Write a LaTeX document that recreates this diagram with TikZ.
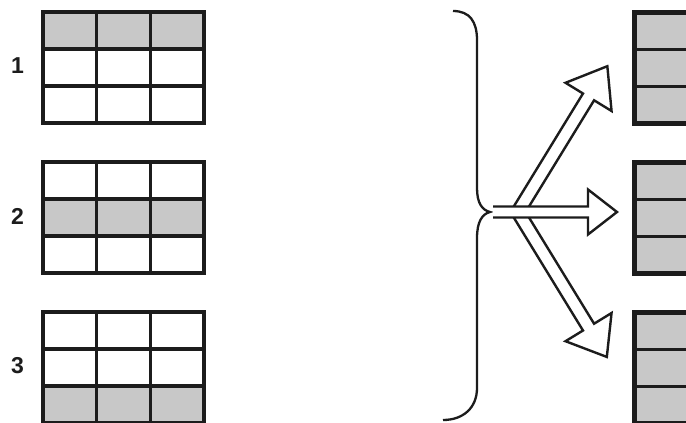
\documentclass[tikz,border=0pt]{standalone}
\usepackage{fontspec}
\setmainfont{Liberation Sans}
\definecolor{cellgray}{RGB}{200,200,200}
\definecolor{ink}{RGB}{28,28,28}
\tikzset{
  gridline/.style={draw=ink,line width=3.5pt},
  outerline/.style={draw=ink,line width=5pt},
  innerline/.style={draw=ink,line width=3pt},
  braceline/.style={draw=ink,line width=2.3pt},
  arrowline/.style={draw=ink,fill=white,line width=2.4pt,line join=miter},
  numlabel/.style={font=\bfseries\fontsize{23}{23}\selectfont,text=ink,inner sep=0pt},
  pics/hollowarrow/.style n args={4}{code={
    \filldraw[arrowline] (0,#4) -- ({#1-#2},#4) -- ({#1-#2},#3) -- (#1,0)
      -- ({#1-#2},-#3) -- ({#1-#2},-#4) -- (0,-#4);
  }}
}
\begin{document}
\begin{tikzpicture}[x=1pt,y=-1pt]
\useasboundingbox (0,0) rectangle (686,423);
\clip (0,0) rectangle (686,423);
\fill[white] (0,0) rectangle (686,423);
% left grids
\foreach \g/\r in {0/0,1/1,2/2}{
  \pgfmathsetmacro{\top}{12+150*\g}
  \fill[cellgray] (43,{\top+37*\r}) rectangle (204,{\top+37*(\r+1)});
  \foreach \i in {1,2}{
    \draw[gridline] (43,{\top+37*\i}) -- (204,{\top+37*\i});
    \draw[gridline] ({43+53.67*\i},\top) -- ({43+53.67*\i},{\top+111});
  }
  \draw[gridline] (43,\top) rectangle (204,{\top+111});
}
% right grids
\foreach \g in {0,1,2}{
  \pgfmathsetmacro{\top}{12+150*\g}
  \fill[cellgray] (634,\top) rectangle (700,{\top+111});
  \foreach \i in {1,2}{
    \draw[innerline] (634,{\top+37*\i}) -- (700,{\top+37*\i});
  }
  \draw[outerline] (634,\top) rectangle (700,{\top+111});
}
% labels
\node[numlabel] (n1) at (17.5,66) {1};
\node[numlabel] (n2) at (17.5,216) {2};
\node[numlabel] (n3) at (17.5,366) {3};
% brace
\coordinate (bt) at (490,212);
\draw[braceline] (453,11) .. controls (470,11) and (477,22) .. (477,40)
  -- (477,188) .. controls (477,203) and (482,210) .. (bt)
  .. controls (482,214) and (477,222) .. (477,238)
  -- (477,388) .. controls (477,408) and (463,420) .. (443,420);
% arrows
\coordinate (fork) at (518,212);
\coordinate (st) at (493,212);
\pic[rotate=58.5] at (fork) {hollowarrow={171}{36}{27}{6.5}};
\pic[rotate=-58.5] at (fork) {hollowarrow={170}{35}{27}{6.5}};
\pic at (st) {hollowarrow={124}{29}{22.5}{5.5}};
\end{tikzpicture}
\end{document}
